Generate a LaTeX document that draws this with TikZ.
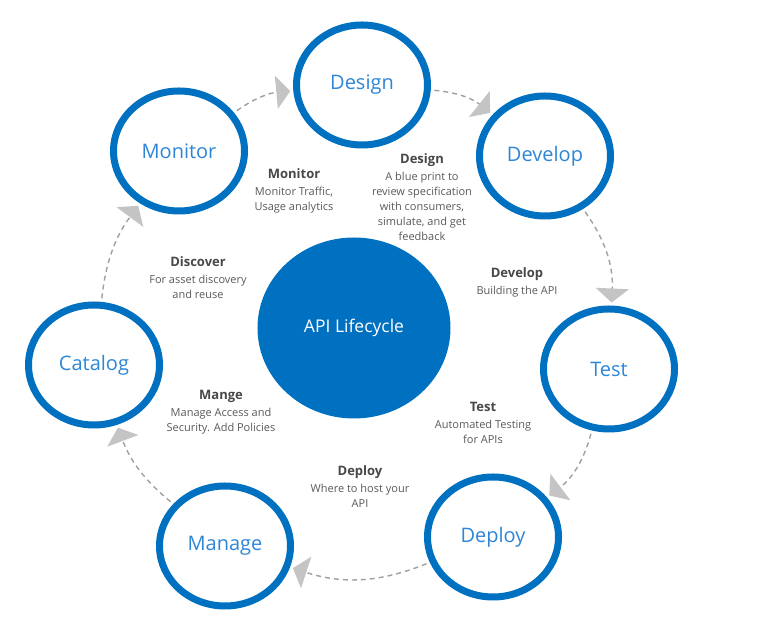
\documentclass[tikz,border=0pt]{standalone}
\usepackage{fontspec}
\setmainfont{Open Sans}
\usetikzlibrary{shapes.geometric,arrows.meta,backgrounds}
\definecolor{cblue}{RGB}{0,112,192}
\definecolor{ctext}{RGB}{46,134,214}
\definecolor{ttitle}{RGB}{72,72,72}
\definecolor{tbody}{RGB}{90,90,90}
\definecolor{cline}{RGB}{160,160,160}
\definecolor{cdash}{RGB}{160,160,160}
\definecolor{chead}{RGB}{196,196,196}
\begin{document}
\begin{tikzpicture}[x=1pt,y=1pt,
  hub/.style={ellipse,fill=cblue,minimum width=193pt,minimum height=181pt,inner sep=0pt,
    text=white,font=\fontsize{17.5}{20}\selectfont},
  stage/.style={ellipse,draw=cblue,line width=7pt,fill=white,minimum width=131pt,minimum height=120pt,
    inner sep=0pt,text=ctext,font=\fontsize{20}{23}\selectfont},
  spoke/.style={draw=cline,line width=1.3pt},
  cycle/.style={draw=cdash,line width=1.4pt,dash pattern=on 5pt off 4pt,
    -{Triangle[length=14pt,width=33pt,color=chead]},shorten >=3pt,shorten <=3.5pt},
  note/.style={anchor=north,align=center,inner sep=0pt,text=tbody,font=\fontsize{11}{15}\selectfont},
]
\useasboundingbox (0,0) rectangle (768,628);
\fill[white] (0,0) rectangle (768,628);
\node[hub] (c) at (354,300) {API Lifecycle};
\node[stage] (design) at (362,543) {Design};
\node[stage] (develop) at (545,472) {Develop};
\node[stage] (test) at (609,259) {Test};
\node[stage] (deploy) at (493,91) {Deploy};
\node[stage] (manage) at (225,82) {Manage};
\node[stage] (catalog) at (94,263) {Catalog};
\node[stage] (monitor) at (179,477) {Monitor};

\begin{scope}[on background layer]
\draw[spoke] (c.85.6) -- (design.-91);
\draw[spoke] (c.36.5) -- (develop.224.4);
\draw[spoke] (c.-12) -- (test.180.8);
\draw[spoke] (c.-60.8) -- (deploy.124.8);
\draw[spoke] (c.-111.6) -- (manage.59.7);
\draw[spoke] (c.191.4) -- (catalog.0.8);
\draw[spoke] (c.136.7) -- (monitor.-66.2);
\end{scope}

\draw[cycle] (monitor) to[bend left=15] (design);
\draw[cycle] (design) to[bend left=17] (develop);
\draw[cycle] (develop) to[bend left=19] (test);
\draw[cycle] (test) to[bend left=19] (deploy);
\draw[cycle] (deploy) to[bend left=20] (manage);
\draw[cycle] (manage) to[bend left=15] (catalog);
\draw[cycle] (catalog) to[bend left=15] (monitor);

\node[note] (nmonitor) at (294,459.5) {{\fontsize{13}{15}\selectfont\bfseries\color{ttitle}Monitor}\\[2pt]Monitor Traffic,\\Usage analytics};
\node[note] (ndesign) at (422,474.5) {{\fontsize{13}{15}\selectfont\bfseries\color{ttitle}Design}\\[2pt]A blue print to\\review specification\\with consumers,\\simulate, and get\\feedback};
\node[note] (ndevelop) at (517,360.5) {{\fontsize{13}{15}\selectfont\bfseries\color{ttitle}Develop}\\[2pt]Building the API};
\node[note] (ntest) at (483,225.5) {{\fontsize{13}{15}\selectfont\bfseries\color{ttitle}Test}\\[2pt]Automated Testing\\for APIs};
\node[note] (ndeploy) at (360,162.5) {{\fontsize{13}{15}\selectfont\bfseries\color{ttitle}Deploy}\\[2pt]Where to host your\\API};
\node[note] (nmanage) at (221,237.5) {{\fontsize{13}{15}\selectfont\bfseries\color{ttitle}Mange}\\[2pt]Manage Access and\\Security. Add Policies};
\node[note] (ndiscover) at (198,371.5) {{\fontsize{13}{15}\selectfont\bfseries\color{ttitle}Discover}\\[2pt]For asset discovery\\and reuse};
\end{tikzpicture}
\end{document}
